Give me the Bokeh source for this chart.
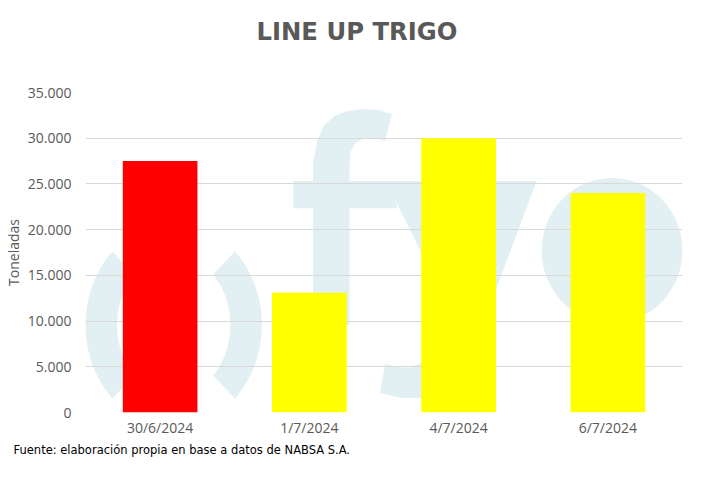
import numpy as np
from bokeh.plotting import figure
from bokeh.models import FactorRange, Range1d, FixedTicker, Title
from bokeh.embed import file_html
from bokeh.resources import INLINE

# ---- data ----
categories = ["30/6/2024", "1/7/2024", "4/7/2024", "6/7/2024"]
toneladas = [27500, 13100, 30000, 24000]
bar_colors = ["#FF0000", "#FFFF00", "#FFFF00", "#FFFF00"]
y_ticks = [0, 5000, 10000, 15000, 20000, 25000, 30000, 35000]
y_tick_labels = ["0", "5.000", "10.000", "15.000", "20.000", "25.000", "30.000", "35.000"]
title_text = "LINE UP TRIGO"
y_label = "Toneladas"
source_note = "Fuente: elaboración propia en base a datos de NABSA S.A."

GRAY = "#595959"
WM = "#E2F0F4"

p = figure(
    title=None,
    x_range=FactorRange(*categories),
    y_range=Range1d(0, 35000),
    width=690, height=457,
    output_backend="svg", toolbar_location=None,
    min_border_left=76, min_border_right=8,
    min_border_top=5, min_border_bottom=5,
    background_fill_color="white", border_fill_color="white",
)
p.outline_line_color = None

# ---- watermark (decorative logo outline, sketched in frame pixels) ----
def wx(px):
    u = (px - 84) / 151.5
    k = int(min(max(np.floor(u), 0), 3))
    return (categories[k], float(u - k - 0.5))
def wy(py):
    return (423 - py) * 35000 / 329
def shape(xs, ys):
    return [wx(x) for x in xs], [wy(y) for y in ys]
def arc(cx, cy, ao, bo, ai, bi, t0, t1):
    t = np.radians(np.linspace(t0, t1, 40))
    xs = list(cx + ao * np.cos(t)) + list(cx + ai * np.cos(t[::-1]))
    ys = list(cy - bo * np.sin(t)) + list(cy - bi * np.sin(t[::-1]))
    return shape(xs, ys)
shapes = []
shapes.append(arc(173.5, 333, 89.5, 105, 57.5, 72, 134, 226))
shapes.append(arc(173.5, 333, 89.5, 105, 57.5, 72, -46, 46))
# f
fx = [315, 315, 319, 326, 337, 350, 365, 382, 395, 388, 378, 367, 358, 353, 352, 352, 315]
fy = [333, 167, 145, 128, 118, 113, 111, 112, 116, 144, 141, 141, 146, 155, 170, 333, 333]
shapes.append(shape(fx, fy))
shapes.append(shape([295, 400, 400, 295], [185, 185, 213, 213]))
# y
shapes.append(shape([389, 433, 490, 462], [185, 185, 335, 335]))
yx = [500, 542, 468, 455, 440, 425, 405, 383, 388, 400, 413, 425, 434, 440]
yy = [185, 185, 385, 400, 406, 408, 408, 403, 373, 376, 377, 372, 360, 345]
shapes.append(shape(yx, yy))
# o
t = np.radians(np.linspace(0, 360, 80))
shapes.append(shape(list(618.5 + 71.5 * np.cos(t)), list(256.5 - 74.5 * np.sin(t))))
for xs, ys in shapes:
    r = p.patch(xs, ys, fill_color=WM, line_color=None)
    r.level = "image"

# ---- bars ----
p.vbar(x=categories, top=toneladas, width=0.5, fill_color=bar_colors, line_color=None)

# ---- axes / grid ----
p.xgrid.visible = False
p.ygrid.ticker = FixedTicker(ticks=y_ticks)
p.ygrid.grid_line_color = "#D9D9D9"
p.ygrid.grid_line_width = 1

p.yaxis.ticker = FixedTicker(ticks=y_ticks)
p.yaxis.major_label_overrides = {t: l for t, l in zip(y_ticks, y_tick_labels)}
for ax in (p.xaxis, p.yaxis):
    ax.axis_line_color = None
    ax.major_tick_line_color = None
    ax.minor_tick_line_color = None
    ax.major_tick_out = 0
    ax.major_tick_in = 0
    ax.major_label_text_font = "Open Sans"
    ax.major_label_text_font_size = "14px"
    ax.major_label_text_color = GRAY
p.yaxis.major_label_standoff = 14
p.xaxis.major_label_standoff = 5
p.yaxis.axis_label = y_label
p.yaxis.axis_label_text_font = "Open Sans"
p.yaxis.axis_label_text_font_size = "14px"
p.yaxis.axis_label_text_font_style = "normal"
p.yaxis.axis_label_text_color = GRAY
p.yaxis.axis_label_standoff = 2

# ---- titles: spacer next to the frame, then the main title above it ----
p.add_layout(Title(text=" ", text_font_size="10px", standoff=20), "above")
p.add_layout(Title(text=title_text, align="left", offset=171, text_font="DejaVu Sans",
                   text_font_size="24.3px", text_font_style="bold", text_color=GRAY,
                   standoff=28), "above")

p.add_layout(Title(text=source_note, align="left", offset=-72, text_font="DejaVu Sans",
                   text_font_size="11.5px", text_font_style="normal", text_color="#000000",
                   standoff=2), "below")

open("out.html", "w").write(file_html(p, INLINE))
